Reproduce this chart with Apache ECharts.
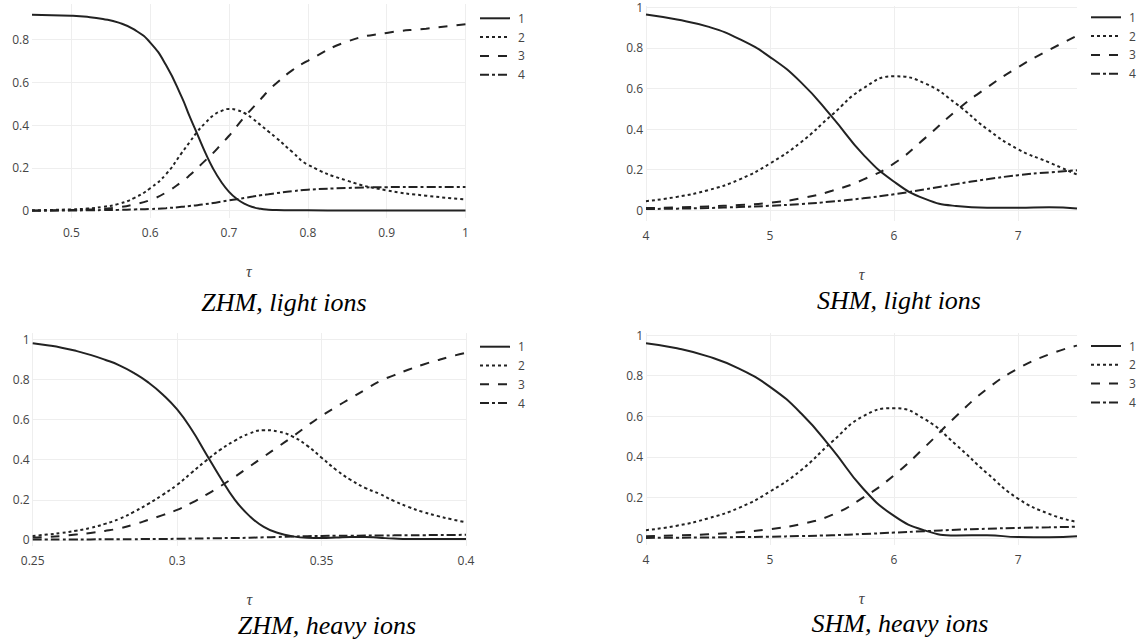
<!DOCTYPE html>
<html>
<head>
<meta charset="utf-8">
<script src="https://cdn.jsdelivr.net/npm/echarts@6/dist/echarts.min.js"></script>
<style>
html,body{margin:0;padding:0;background:#fff;}
#chart{width:1137px;height:643px;}
</style>
</head>
<body>
<div id="chart"></div>
<script>
// ---------- DATA ----------
const seriesNames = ['1', '2', '3', '4'];

// ZHM, light ions
const zhmLightTau = [0.45,0.5,0.52,0.54,0.56,0.58,0.6,0.62,0.64,0.65,0.66,0.67,0.68,0.69,0.7,0.71,0.72,0.73,0.74,0.75,0.76,0.78,0.8,0.85,0.9,0.95,1.0];
const zhmLight1 = [0.915,0.91,0.905,0.895,0.878,0.845,0.785,0.68,0.53,0.44,0.355,0.27,0.195,0.135,0.088,0.055,0.032,0.017,0.009,0.005,0.003,0.002,0.002,0.001,0.001,0.001,0.001];
const zhmLight2 = [0.002,0.006,0.01,0.018,0.032,0.06,0.105,0.17,0.27,0.32,0.37,0.41,0.445,0.465,0.475,0.47,0.455,0.43,0.40,0.37,0.34,0.275,0.215,0.14,0.095,0.07,0.053];
const zhmLight3 = [0.001,0.003,0.005,0.009,0.016,0.03,0.05,0.085,0.135,0.165,0.2,0.235,0.27,0.31,0.35,0.395,0.44,0.48,0.52,0.56,0.595,0.655,0.70,0.79,0.83,0.85,0.87];
const zhmLight4 = [0,0.001,0.002,0.003,0.004,0.006,0.008,0.012,0.018,0.022,0.026,0.031,0.036,0.042,0.048,0.054,0.06,0.066,0.072,0.077,0.082,0.091,0.098,0.106,0.11,0.111,0.111];

// SHM, light ions
const shmLightTau = [4,4.25,4.5,4.75,5,5.25,5.5,5.75,6,6.25,6.5,6.75,7,7.25,7.475];
const shmLight1 = [0.965,0.94,0.905,0.845,0.755,0.63,0.46,0.275,0.14,0.055,0.02,0.012,0.012,0.014,0.008];
const shmLight2 = [0.044,0.065,0.098,0.15,0.23,0.335,0.47,0.6,0.66,0.625,0.525,0.4,0.3,0.235,0.175];
const shmLight3 = [0.01,0.013,0.018,0.025,0.036,0.058,0.095,0.15,0.23,0.355,0.49,0.605,0.705,0.79,0.86];
const shmLight4 = [0.005,0.007,0.01,0.015,0.021,0.03,0.042,0.058,0.078,0.102,0.128,0.152,0.172,0.186,0.196];

// ZHM, heavy ions
const zhmHeavyTau = [0.25,0.255,0.26,0.265,0.27,0.275,0.28,0.285,0.29,0.295,0.30,0.305,0.31,0.315,0.32,0.325,0.33,0.335,0.34,0.345,0.35,0.355,0.36,0.365,0.37,0.375,0.38,0.385,0.39,0.395,0.40];
const zhmHeavy1 = [0.98,0.97,0.958,0.942,0.922,0.898,0.87,0.832,0.785,0.725,0.65,0.55,0.43,0.31,0.2,0.12,0.065,0.035,0.018,0.011,0.01,0.012,0.015,0.015,0.011,0.007,0.005,0.005,0.005,0.005,0.005];
const zhmHeavy2 = [0.02,0.027,0.035,0.046,0.06,0.08,0.105,0.14,0.18,0.225,0.275,0.335,0.395,0.45,0.495,0.53,0.547,0.54,0.515,0.47,0.41,0.35,0.3,0.26,0.23,0.195,0.165,0.14,0.12,0.103,0.088];
const zhmHeavy3 = [0.012,0.015,0.02,0.027,0.035,0.045,0.058,0.077,0.1,0.124,0.15,0.185,0.225,0.268,0.315,0.365,0.415,0.465,0.515,0.568,0.618,0.663,0.705,0.748,0.79,0.82,0.848,0.873,0.895,0.915,0.932];
const zhmHeavy4 = [0.003,0.003,0.003,0.003,0.003,0.004,0.004,0.004,0.005,0.005,0.006,0.007,0.008,0.009,0.01,0.011,0.013,0.015,0.017,0.019,0.02,0.021,0.021,0.022,0.022,0.023,0.024,0.024,0.025,0.025,0.026];

// SHM, heavy ions
const shmHeavyTau = [4,4.25,4.5,4.75,5,5.25,5.5,5.75,6,6.25,6.5,6.75,7,7.25,7.475];
const shmHeavy1 = [0.96,0.935,0.895,0.835,0.745,0.615,0.44,0.245,0.11,0.038,0.014,0.015,0.006,0.005,0.01];
const shmHeavy2 = [0.04,0.062,0.098,0.15,0.23,0.335,0.475,0.6,0.64,0.585,0.46,0.32,0.195,0.12,0.08];
const shmHeavy3 = [0.01,0.014,0.02,0.03,0.045,0.07,0.115,0.2,0.31,0.45,0.6,0.735,0.835,0.905,0.948];
const shmHeavy4 = [0.002,0.003,0.004,0.006,0.008,0.011,0.015,0.021,0.028,0.035,0.042,0.047,0.051,0.054,0.057];

// tick labels
const zhmLightXTicks = [0.5,0.6,0.7,0.8,0.9,1];
const zhmHeavyXTicks = [0.25,0.3,0.35,0.4];
const shmXTicks = [4,5,6,7];
const yTicksLightZhm = [0,0.2,0.4,0.6,0.8];
const yTicks = [0,0.2,0.4,0.6,0.8,1];

const captions = ['ZHM, light ions', 'SHM, light ions', 'ZHM, heavy ions', 'SHM, heavy ions'];
const xAxisTitle = 'τ';

// ---------- LAYOUT / STYLE ----------
const panels = [
  {tau: zhmLightTau, ys: [zhmLight1, zhmLight2, zhmLight3, zhmLight4], xTicks: zhmLightXTicks, yTicks: yTicksLightZhm,
   grid: {left: 32, top: 4, width: 433.5, height: 214}, xr: [0.45, 1], yr: [-0.034, 0.965],
   legend: {left: 479, top: 11.3}, caption: {x: 284, y: 302}},
  {tau: shmLightTau, ys: [shmLight1, shmLight2, shmLight3, shmLight4], xTicks: shmXTicks, yTicks: yTicks,
   grid: {left: 646, top: 6, width: 431, height: 215}, xr: [4, 7.475], yr: [-0.054, 1.007],
   legend: {left: 1090, top: 10.3}, caption: {x: 899, y: 300}},
  {tau: zhmHeavyTau, ys: [zhmHeavy1, zhmHeavy2, zhmHeavy3, zhmHeavy4], xTicks: zhmHeavyXTicks, yTicks: yTicks,
   grid: {left: 32.7, top: 333, width: 433.3, height: 213}, xr: [0.25, 0.4], yr: [-0.03, 1.031],
   legend: {left: 479, top: 339.7}, caption: {x: 327, y: 625}},
  {tau: shmHeavyTau, ys: [shmHeavy1, shmHeavy2, shmHeavy3, shmHeavy4], xTicks: shmXTicks, yTicks: yTicks,
   grid: {left: 646, top: 333, width: 431, height: 212}, xr: [4, 7.475], yr: [-0.033, 1.01],
   legend: {left: 1090, top: 339}, caption: {x: 900, y: 623}}
];

const lineColor = '#222';
const dashes = ['solid', [3, 3], [9, 9], [9, 3, 3, 3]];
const tickFont = {fontFamily: 'Open Sans', fontSize: 12, color: '#444'};

const option = {
  animation: false,
  backgroundColor: '#fff',
  grid: [], xAxis: [], yAxis: [], series: [], legend: [], graphic: []
};

panels.forEach((p, k) => {
  option.grid.push(Object.assign({containLabel: false}, p.grid));
  option.xAxis.push({
    type: 'value', gridIndex: k, min: p.xr[0], max: p.xr[1],
    name: xAxisTitle, nameLocation: 'middle', nameGap: 45,
    nameTextStyle: {fontFamily: 'Liberation Serif', fontStyle: 'italic', fontSize: 16, color: '#444'},
    axisLine: {show: false}, axisTick: {show: false, customValues: p.xTicks},
    axisLabel: Object.assign({customValues: p.xTicks, margin: 8}, tickFont),
    splitLine: {show: true, lineStyle: {color: '#eee', width: 1}}
  });
  option.yAxis.push({
    type: 'value', gridIndex: k, min: p.yr[0], max: p.yr[1],
    axisLine: {show: false}, axisTick: {show: false, customValues: p.yTicks},
    axisLabel: Object.assign({customValues: p.yTicks, margin: 3}, tickFont),
    splitLine: {show: true, lineStyle: {color: '#eee', width: 1}}
  });
  p.ys.forEach((vals, s) => {
    option.series.push({
      name: seriesNames[s], type: 'line', xAxisIndex: k, yAxisIndex: k,
      data: p.tau.map((t, i) => [t, vals[i]]),
      symbol: 'none', smooth: 0.5,
      lineStyle: {color: lineColor, width: 2, type: dashes[s]},
      itemStyle: {color: lineColor},
      z: 10 - s
    });
  });
  option.legend.push({
    data: seriesNames, orient: 'vertical', left: p.legend.left, top: p.legend.top,
    padding: 0, itemWidth: 30, itemHeight: 14, itemGap: 4.8, selectedMode: false,
    itemStyle: {color: 'rgba(0,0,0,0)', borderWidth: 0, opacity: 0},
    textStyle: {fontFamily: 'Open Sans', fontSize: 12, color: '#444', lineHeight: 14, padding: [0, 0, 0, 3]}
  });
  option.graphic.push({
    type: 'text', x: p.caption.x, y: p.caption.y, silent: true,
    style: {text: captions[k], font: 'italic 26px "Liberation Serif"', fill: '#000', align: 'center', verticalAlign: 'middle'}
  });
});

const chart = echarts.init(document.getElementById('chart'), null, {renderer: 'svg', width: 1137, height: 643});
chart.setOption(option);
</script>
</body>
</html>
